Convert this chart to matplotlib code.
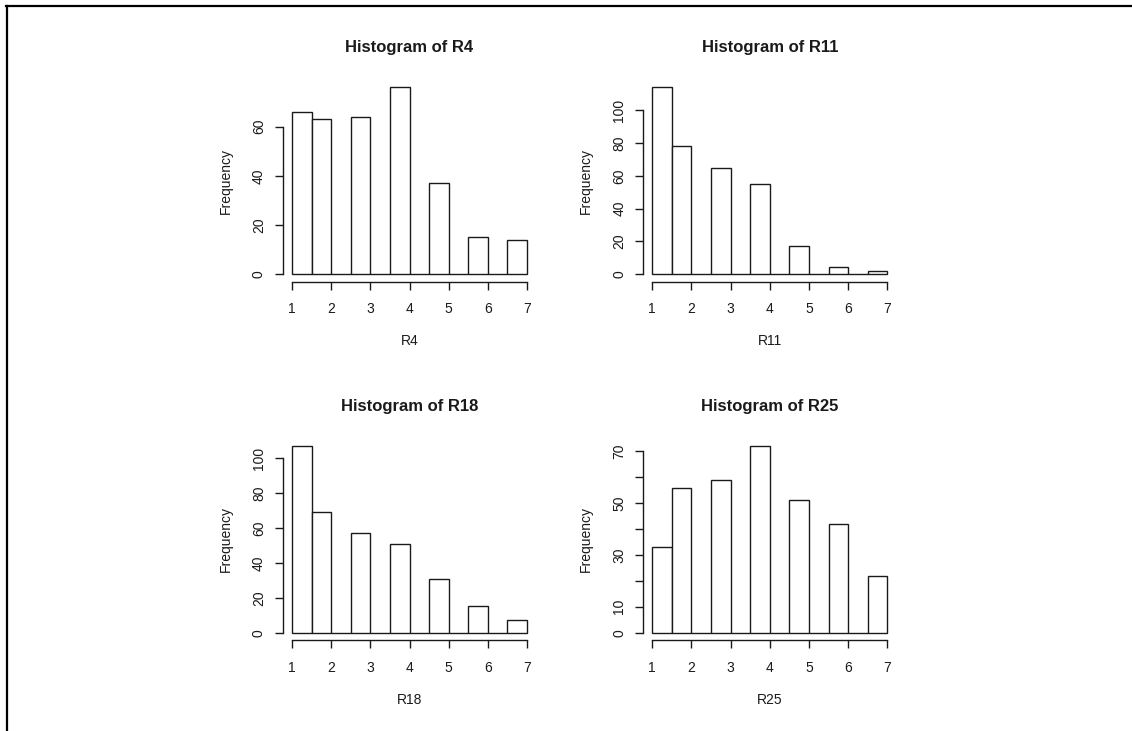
import numpy as np
import matplotlib
matplotlib.use('Agg')
import matplotlib.pyplot as plt
from matplotlib.lines import Line2D

plt.rcParams['font.family'] = ['Liberation Sans', 'DejaVu Sans']

# histogram breaks (R default: 1, 1.5, ..., 7)
breaks = [1, 1.5, 2, 2.5, 3, 3.5, 4, 4.5, 5, 5.5, 6, 6.5, 7]

# counts per bin, empty bins are zero
R4 = [66, 63, 0, 64, 0, 76, 0, 37, 0, 15, 0, 14]
R11 = [114, 78, 0, 65, 0, 55, 0, 17, 0, 4, 0, 2]
R18 = [107, 69, 0, 57, 0, 51, 0, 31, 0, 15, 0, 7]
R25 = [33, 56, 0, 59, 0, 72, 0, 51, 0, 42, 0, 22]

names = ['R4', 'R11', 'R18', 'R25']
series = [R4, R11, R18, R25]
yticks = [[0, 20, 40, 60],
          [0, 20, 40, 60, 80, 100],
          [0, 20, 40, 60, 80, 100],
          [0, 10, 20, 30, 40, 50, 60, 70]]
ytick_labels = [['0', '20', '40', '60'],
                ['0', '20', '40', '60', '80', '100'],
                ['0', '20', '40', '60', '80', '100'],
                ['0', '10', '', '30', '', '50', '', '70']]
xticks = [1, 2, 3, 4, 5, 6, 7]

W, H = 1132, 731
fig = plt.figure(figsize=(W / 100, H / 100), dpi=100)

# plot regions in pixels: (left, top, width, height)
lefts = [282.6, 642.9]
tops = [80.0, 438.6]
pw, ph = 253.8, 201.5

ink = '#1a1a1a'
lab = 10
for i, (name, counts) in enumerate(zip(names, series)):
    r, c = divmod(i, 2)
    x0 = lefts[c]
    y0 = tops[r]
    ax = fig.add_axes([x0 / W, 1 - (y0 + ph) / H, pw / W, ph / H])

    edges = np.array(breaks)
    ax.bar(edges[:-1], counts, width=np.diff(edges), align='edge',
           facecolor='white', edgecolor=ink, linewidth=1.0)

    xmin, xmax = breaks[0], breaks[-1]
    dx = (xmax - xmin) * 0.04
    ymax = max(counts)
    ax.set_xlim(xmin - dx, xmax + dx)
    ax.set_ylim(-0.04 * ymax, 1.04 * ymax)

    for s in ['top', 'right']:
        ax.spines[s].set_visible(False)
    ax.spines['left'].set_bounds(yticks[i][0], yticks[i][-1])
    ax.spines['bottom'].set_bounds(xticks[0], xticks[-1])
    for s in ['left', 'bottom']:
        ax.spines[s].set_linewidth(1.0)
        ax.spines[s].set_color(ink)

    ax.set_xticks(xticks)
    ax.set_xticklabels([str(v) for v in xticks])
    ax.set_yticks(yticks[i])
    ax.set_yticklabels(ytick_labels[i], rotation=90, va='center')
    ax.tick_params(axis='both', length=6, width=1.0, color=ink,
                   labelsize=lab, labelcolor=ink)
    ax.tick_params(axis='x', pad=9)
    ax.tick_params(axis='y', pad=6)

    ax.set_title('Histogram of ' + name, fontsize=12, fontweight='bold',
                 color=ink, pad=20)
    ax.set_xlabel(name, fontsize=lab, color=ink, labelpad=13)
    ax.set_ylabel('Frequency', fontsize=lab, color=ink, labelpad=14)

# page frame around the figure (top and left edges)
fig.add_artist(Line2D([6 / W, 1], [1 - 6 / H, 1 - 6 / H], color='black',
                      linewidth=1.6, transform=fig.transFigure))
fig.add_artist(Line2D([7 / W, 7 / W], [0, 1 - 6 / H], color='black',
                      linewidth=1.6, transform=fig.transFigure))

fig.savefig('out.png', dpi=100, facecolor='white')
